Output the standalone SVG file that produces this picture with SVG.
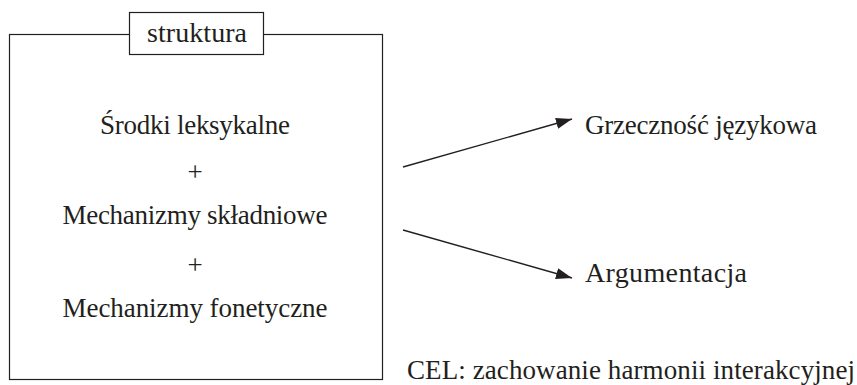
<svg xmlns="http://www.w3.org/2000/svg" width="857" height="385" viewBox="0 0 857 385">
<style>
text{font-family:"Liberation Serif","DejaVu Serif",serif;font-size:27px;fill:#231f20}
.c{text-anchor:middle}
.w{font-size:28px}
.box{fill:#fff;stroke:#231f20;stroke-width:1.2}
.ln{stroke:#231f20;stroke-width:1.4;fill:none}
</style>
<defs>
<marker id="ah" viewBox="0 0 16 11" refX="16" refY="5.5" markerWidth="16" markerHeight="11" markerUnits="userSpaceOnUse" orient="auto">
<path d="M0,0 L16,5.5 L0,11 z" fill="#231f20"/>
</marker>
</defs>
<g id="struktura">
<rect class="box" x="9.5" y="34.5" width="373" height="345"/>
<rect class="box" x="129.5" y="12.5" width="134" height="42"/>
<text class="c w" x="197" y="42" textLength="100">struktura</text>
<text class="c" x="195" y="134" textLength="190">Środki leksykalne</text>
<text class="c" x="195" y="181">+</text>
<text class="c" x="195" y="224" textLength="265">Mechanizmy składniowe</text>
<text class="c" x="195" y="274">+</text>
<text class="c" x="195" y="317" textLength="265">Mechanizmy fonetyczne</text>
</g>
<g id="connectors">
<line class="ln" x1="403" y1="167" x2="572" y2="119" marker-end="url(#ah)"/>
<line class="ln" x1="403" y1="230" x2="572" y2="278" marker-end="url(#ah)"/>
</g>
<g id="grzecznosc"><text x="585" y="134" textLength="232">Grzeczność językowa</text></g>
<g id="argumentacja"><text class="w" x="585" y="282" textLength="162">Argumentacja</text></g>
<g id="cel"><text x="407" y="379" textLength="448">CEL: zachowanie harmonii interakcyjnej</text></g>
</svg>
